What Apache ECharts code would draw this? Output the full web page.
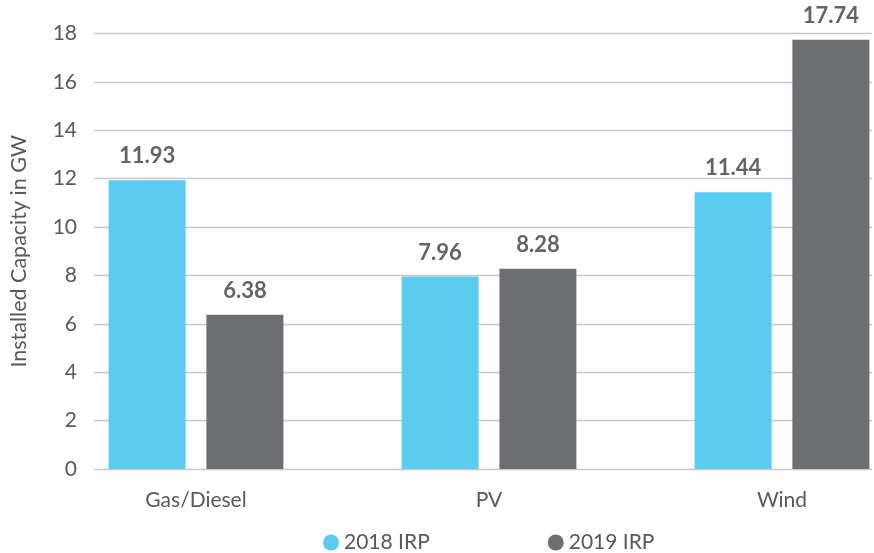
<!DOCTYPE html>
<html><head><meta charset="utf-8">
<script src="https://cdn.jsdelivr.net/npm/echarts@6/dist/echarts.min.js"></script>
<style>html,body{margin:0;padding:0;background:#fff}#c{width:874px;height:553px}</style>
</head><body><div id="c"></div>
<script>
const categories = ['Gas/Diesel', 'PV', 'Wind'];
const irp2018 = [11.93, 7.96, 11.44];
const irp2019 = [6.38, 8.28, 17.74];
const yTicks = [0, 2, 4, 6, 8, 10, 12, 14, 16, 18];
const seriesNames = ['2018 IRP', '2019 IRP'];

const FONT = 'Lato';
const chart = echarts.init(document.getElementById('c'));
const labelStyle = {show: true, position: 'top', distance: 13, fontFamily: FONT, fontWeight: 'bold', fontSize: 22, color: '#636466'};
chart.setOption({
  animation: false,
  textStyle: {fontFamily: FONT},
  grid: [
    {left: 86, right: 2, top: 33.5, bottom: 84},
    {left: 196, right: 92, top: 33.5, bottom: 84}
  ],
  legend: {
    data: seriesNames, left: 318, top: 527, icon: 'circle', itemWidth: 16, itemHeight: 16, itemGap: 118,
    textStyle: {fontFamily: FONT, fontSize: 21, color: '#595959'}
  },
  xAxis: [
    {type: 'category', gridIndex: 0, data: categories, show: false},
    {type: 'category', gridIndex: 1, data: categories, boundaryGap: false,
     axisLine: {show: false}, axisTick: {show: false}, splitLine: {show: false},
     axisLabel: {fontFamily: FONT, fontSize: 21, color: '#595959', margin: 21}}
  ],
  yAxis: [
    {type: 'value', gridIndex: 0, min: yTicks[0], max: yTicks[yTicks.length - 1], interval: 2,
     name: 'Installed Capacity in GW', nameLocation: 'middle', nameGap: 64,
     nameTextStyle: {fontFamily: FONT, fontSize: 21.5, color: '#595959'},
     axisLine: {show: false}, axisTick: {show: false},
     axisLabel: {fontFamily: FONT, fontSize: 21, color: '#595959', margin: 17},
     splitLine: {lineStyle: {color: '#c8c8c8', width: 1.3}}},
    {type: 'value', gridIndex: 1, min: yTicks[0], max: yTicks[yTicks.length - 1], interval: 2, show: false}
  ],
  series: [
    {name: seriesNames[0], type: 'bar', xAxisIndex: 1, yAxisIndex: 1, data: irp2018, barWidth: 77, barGap: '27%', clip: false,
     itemStyle: {color: '#5bcbf0'}, label: labelStyle},
    {name: seriesNames[1], type: 'bar', xAxisIndex: 1, yAxisIndex: 1, data: irp2019, barWidth: 77, barGap: '27%', clip: false,
     itemStyle: {color: '#6d6e71'}, label: labelStyle}
  ]
});
</script></body></html>
